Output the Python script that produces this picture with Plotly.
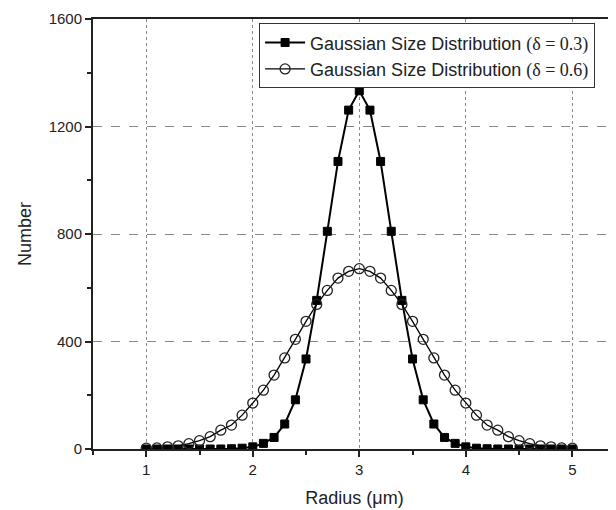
import plotly.graph_objects as go

radius = [round(1 + 0.1 * i, 1) for i in range(41)]

# delta = 0.3 (filled squares), radius 1.0 ... 5.0
num_03 = [0, 0, 0, 0, 0, 0, 0, 0, 1, 3, 8, 21, 43, 93, 183, 335, 553, 810, 1070, 1261,
          1333,
          1261, 1070, 810, 553, 335, 183, 93, 43, 21, 8, 3, 1, 0, 0, 0, 0, 0, 0, 0, 0]

# delta = 0.6 (open circles), radius 1.0 ... 5.0
num_06 = [3, 4, 8, 12, 20, 31, 46, 70, 89, 126, 171, 219, 275, 339, 408, 475, 538, 590, 636, 661,
          671,
          661, 636, 590, 538, 475, 408, 339, 275, 219, 171, 126, 89, 70, 46, 31, 20, 12, 8, 4, 3]

x_ticks = [1, 2, 3, 4, 5]
y_ticks = [0, 400, 800, 1200, 1600]

serif = "font-family:'Liberation Serif', 'Times New Roman', serif"
name_03 = f"Gaussian Size Distribution <span style=\"{serif}\">(δ = 0.3)</span>"
name_06 = f"Gaussian Size Distribution <span style=\"{serif}\">(δ = 0.6)</span>"

fig = go.Figure()
fig.add_trace(go.Scatter(
    x=radius, y=num_03, mode="lines+markers", name=name_03,
    line=dict(color="black", width=2),
    marker=dict(symbol="square", size=8, color="black", line=dict(color="black", width=1)),
))
fig.add_trace(go.Scatter(
    x=radius, y=num_06, mode="lines+markers", name=name_06,
    line=dict(color="black", width=1.3),
    marker=dict(symbol="circle-open", size=10, color="#222", line=dict(color="#222", width=1.3)),
))

font_main = "Liberation Sans, Arial, sans-serif"

# page body has an 8px margin, so the figure is sized to end at the window edge
fig.update_layout(
    width=608, height=502,
    margin=dict(l=85, r=0, t=11, b=61),
    paper_bgcolor="white", plot_bgcolor="white",
    font=dict(family=font_main, color="#222", size=15),
    showlegend=True,
    legend=dict(
        x=0.96, y=0.99, xanchor="right", yanchor="top",
        bgcolor="white", bordercolor="#333", borderwidth=1,
        font=dict(size=18, family=font_main, color="#222"),
        tracegroupgap=0, itemwidth=40,
    ),
    xaxis=dict(
        range=[0.5, 5.41], tickvals=x_ticks, ticktext=[str(v) for v in x_ticks],
        showline=True, linecolor="#222", linewidth=2, mirror=True,
        ticks="outside", ticklen=6, tickwidth=1.5, tickcolor="#222",
        minor=dict(dtick=0.5, tick0=0.5, ticks="outside", ticklen=4, tickcolor="#222", showgrid=False),
        showgrid=True, gridcolor="#888", griddash="dot", gridwidth=1,
        zeroline=False, automargin=False,
        title=dict(text="Radius (μm)", font=dict(size=18), standoff=14),
        tickfont=dict(size=15),
    ),
    xaxis2=dict(
        range=[0.5, 5.41], overlaying="x", side="top", matches="x",
        tickvals=x_ticks, showticklabels=False, showline=False, showgrid=False,
        ticks="inside", ticklen=5, tickwidth=1.2, tickcolor="#222", zeroline=False,
    ),
    yaxis=dict(
        range=[0, 1600], tickvals=y_ticks, ticktext=[str(v) for v in y_ticks],
        showline=True, linecolor="#222", linewidth=2, mirror=False,
        ticks="outside", ticklen=6, tickwidth=1.5, tickcolor="#222",
        minor=dict(dtick=200, tick0=0, ticks="outside", ticklen=4, tickcolor="#222", showgrid=False),
        showgrid=True, gridcolor="#888", griddash="dash", gridwidth=1,
        zeroline=False, automargin=False,
        title=dict(text="Number", font=dict(size=18), standoff=12),
        tickfont=dict(size=15),
    ),
)

fig.write_html("out.html")
